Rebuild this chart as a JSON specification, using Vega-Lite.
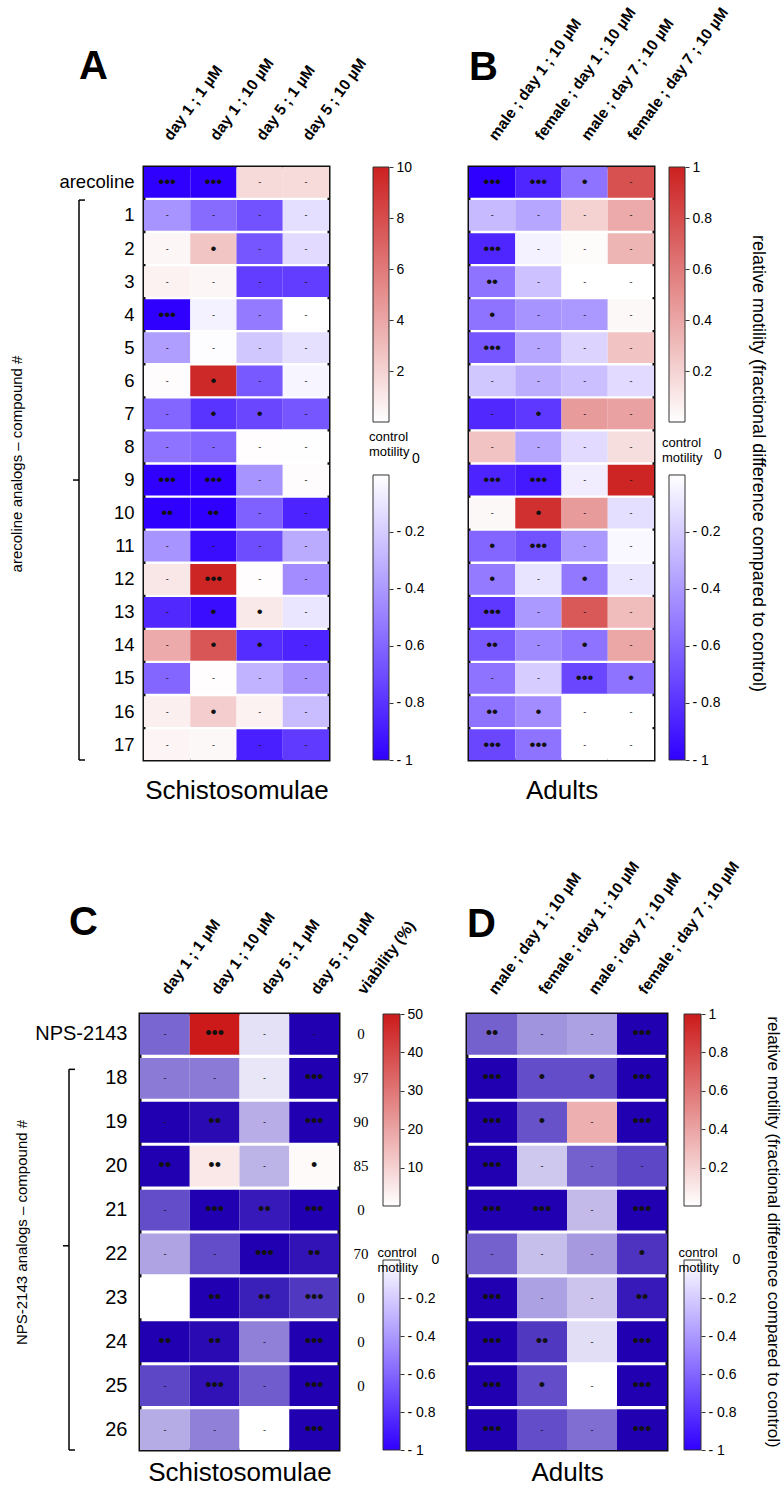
{
"$schema":"https://vega.github.io/schema/vega-lite/v6.json",
"padding":{"left":8,"top":3,"right":0,"bottom":0},
"config":{"font":"Liberation Sans","view":{"stroke":null},"axis":{"grid":false}},
"datasets":{
"A":[
{"r":"arecoline","c":"day 1 ; 1 µM","v":-1,"s":"•••"},{"r":"arecoline","c":"day 1 ; 10 µM","v":-1,"s":"•••"},{"r":"arecoline","c":"day 5 ; 1 µM","v":1.7,"s":"-"},{"r":"arecoline","c":"day 5 ; 10 µM","v":1.6,"s":"-"},
{"r":"1","c":"day 1 ; 1 µM","v":-0.42,"s":"-"},{"r":"1","c":"day 1 ; 10 µM","v":-0.58,"s":"-"},{"r":"1","c":"day 5 ; 1 µM","v":-0.68,"s":"-"},{"r":"1","c":"day 5 ; 10 µM","v":-0.13,"s":"-"},
{"r":"2","c":"day 1 ; 1 µM","v":0.4,"s":"-"},{"r":"2","c":"day 1 ; 10 µM","v":2.6,"s":"•"},{"r":"2","c":"day 5 ; 1 µM","v":-0.66,"s":"-"},{"r":"2","c":"day 5 ; 10 µM","v":-0.14,"s":"-"},
{"r":"3","c":"day 1 ; 1 µM","v":0.6,"s":"-"},{"r":"3","c":"day 1 ; 10 µM","v":0.4,"s":"-"},{"r":"3","c":"day 5 ; 1 µM","v":-0.76,"s":"-"},{"r":"3","c":"day 5 ; 10 µM","v":-0.76,"s":"-"},
{"r":"4","c":"day 1 ; 1 µM","v":-1,"s":"•••"},{"r":"4","c":"day 1 ; 10 µM","v":-0.05,"s":"-"},{"r":"4","c":"day 5 ; 1 µM","v":-0.52,"s":"-"},{"r":"4","c":"day 5 ; 10 µM","v":0,"s":"-"},
{"r":"5","c":"day 1 ; 1 µM","v":-0.38,"s":"-"},{"r":"5","c":"day 1 ; 10 µM","v":-0.01,"s":"-"},{"r":"5","c":"day 5 ; 1 µM","v":-0.22,"s":"-"},{"r":"5","c":"day 5 ; 10 µM","v":-0.12,"s":"-"},
{"r":"6","c":"day 1 ; 1 µM","v":0.15,"s":"-"},{"r":"6","c":"day 1 ; 10 µM","v":9.6,"s":"•"},{"r":"6","c":"day 5 ; 1 µM","v":-0.65,"s":"-"},{"r":"6","c":"day 5 ; 10 µM","v":-0.04,"s":"-"},
{"r":"7","c":"day 1 ; 1 µM","v":-0.6,"s":"-"},{"r":"7","c":"day 1 ; 10 µM","v":-0.8,"s":"•"},{"r":"7","c":"day 5 ; 1 µM","v":-0.72,"s":"•"},{"r":"7","c":"day 5 ; 10 µM","v":-0.66,"s":"-"},
{"r":"8","c":"day 1 ; 1 µM","v":-0.55,"s":"-"},{"r":"8","c":"day 1 ; 10 µM","v":-0.6,"s":"-"},{"r":"8","c":"day 5 ; 1 µM","v":0.08,"s":"-"},{"r":"8","c":"day 5 ; 10 µM","v":0.05,"s":"-"},
{"r":"9","c":"day 1 ; 1 µM","v":-1,"s":"•••"},{"r":"9","c":"day 1 ; 10 µM","v":-1,"s":"•••"},{"r":"9","c":"day 5 ; 1 µM","v":-0.42,"s":"-"},{"r":"9","c":"day 5 ; 10 µM","v":0.12,"s":"-"},
{"r":"10","c":"day 1 ; 1 µM","v":-1,"s":"••"},{"r":"10","c":"day 1 ; 10 µM","v":-1,"s":"••"},{"r":"10","c":"day 5 ; 1 µM","v":-0.62,"s":"-"},{"r":"10","c":"day 5 ; 10 µM","v":-0.86,"s":"-"},
{"r":"11","c":"day 1 ; 1 µM","v":-0.42,"s":"-"},{"r":"11","c":"day 1 ; 10 µM","v":-0.95,"s":"-"},{"r":"11","c":"day 5 ; 1 µM","v":-0.7,"s":"-"},{"r":"11","c":"day 5 ; 10 µM","v":-0.33,"s":"-"},
{"r":"12","c":"day 1 ; 1 µM","v":1.1,"s":"-"},{"r":"12","c":"day 1 ; 10 µM","v":9.8,"s":"•••"},{"r":"12","c":"day 5 ; 1 µM","v":0.08,"s":"-"},{"r":"12","c":"day 5 ; 10 µM","v":-0.45,"s":"-"},
{"r":"13","c":"day 1 ; 1 µM","v":-0.84,"s":"-"},{"r":"13","c":"day 1 ; 10 µM","v":-0.95,"s":"•"},{"r":"13","c":"day 5 ; 1 µM","v":1.0,"s":"•"},{"r":"13","c":"day 5 ; 10 µM","v":-0.1,"s":"-"},
{"r":"14","c":"day 1 ; 1 µM","v":3.8,"s":"-"},{"r":"14","c":"day 1 ; 10 µM","v":7.6,"s":"•"},{"r":"14","c":"day 5 ; 1 µM","v":-0.82,"s":"•"},{"r":"14","c":"day 5 ; 10 µM","v":-0.86,"s":"-"},
{"r":"15","c":"day 1 ; 1 µM","v":-0.6,"s":"-"},{"r":"15","c":"day 1 ; 10 µM","v":0.08,"s":"-"},{"r":"15","c":"day 5 ; 1 µM","v":-0.3,"s":"-"},{"r":"15","c":"day 5 ; 10 µM","v":-0.43,"s":"-"},
{"r":"16","c":"day 1 ; 1 µM","v":0.7,"s":"-"},{"r":"16","c":"day 1 ; 10 µM","v":2.2,"s":"•"},{"r":"16","c":"day 5 ; 1 µM","v":0.6,"s":"-"},{"r":"16","c":"day 5 ; 10 µM","v":-0.26,"s":"-"},
{"r":"17","c":"day 1 ; 1 µM","v":0.45,"s":"-"},{"r":"17","c":"day 1 ; 10 µM","v":0.3,"s":"-"},{"r":"17","c":"day 5 ; 1 µM","v":-0.88,"s":"-"},{"r":"17","c":"day 5 ; 10 µM","v":-0.77,"s":"-"}
],
"B":[
{"r":"arecoline","c":"male ; day 1 ; 10 µM","v":-1,"s":"•••"},{"r":"arecoline","c":"female ; day 1 ; 10 µM","v":-0.85,"s":"•••"},{"r":"arecoline","c":"male ; day 7 ; 10 µM","v":-0.55,"s":"•"},{"r":"arecoline","c":"female ; day 7 ; 10 µM","v":0.78,"s":"-"},
{"r":"1","c":"male ; day 1 ; 10 µM","v":-0.27,"s":"-"},{"r":"1","c":"female ; day 1 ; 10 µM","v":-0.35,"s":"-"},{"r":"1","c":"male ; day 7 ; 10 µM","v":0.2,"s":"-"},{"r":"1","c":"female ; day 7 ; 10 µM","v":0.38,"s":"-"},
{"r":"2","c":"male ; day 1 ; 10 µM","v":-0.85,"s":"•••"},{"r":"2","c":"female ; day 1 ; 10 µM","v":-0.05,"s":"-"},{"r":"2","c":"male ; day 7 ; 10 µM","v":0.02,"s":"-"},{"r":"2","c":"female ; day 7 ; 10 µM","v":0.33,"s":"-"},
{"r":"3","c":"male ; day 1 ; 10 µM","v":-0.55,"s":"••"},{"r":"3","c":"female ; day 1 ; 10 µM","v":-0.24,"s":"-"},{"r":"3","c":"male ; day 7 ; 10 µM","v":0,"s":"-"},{"r":"3","c":"female ; day 7 ; 10 µM","v":0,"s":"-"},
{"r":"4","c":"male ; day 1 ; 10 µM","v":-0.55,"s":"•"},{"r":"4","c":"female ; day 1 ; 10 µM","v":-0.42,"s":"-"},{"r":"4","c":"male ; day 7 ; 10 µM","v":-0.4,"s":"-"},{"r":"4","c":"female ; day 7 ; 10 µM","v":0.03,"s":"-"},
{"r":"5","c":"male ; day 1 ; 10 µM","v":-0.66,"s":"•••"},{"r":"5","c":"female ; day 1 ; 10 µM","v":-0.35,"s":"-"},{"r":"5","c":"male ; day 7 ; 10 µM","v":-0.17,"s":"-"},{"r":"5","c":"female ; day 7 ; 10 µM","v":0.27,"s":"-"},
{"r":"6","c":"male ; day 1 ; 10 µM","v":-0.22,"s":"-"},{"r":"6","c":"female ; day 1 ; 10 µM","v":-0.32,"s":"-"},{"r":"6","c":"male ; day 7 ; 10 µM","v":-0.25,"s":"-"},{"r":"6","c":"female ; day 7 ; 10 µM","v":-0.14,"s":"-"},
{"r":"7","c":"male ; day 1 ; 10 µM","v":-0.84,"s":"-"},{"r":"7","c":"female ; day 1 ; 10 µM","v":-0.78,"s":"•"},{"r":"7","c":"male ; day 7 ; 10 µM","v":0.45,"s":"-"},{"r":"7","c":"female ; day 7 ; 10 µM","v":0.42,"s":"-"},
{"r":"8","c":"male ; day 1 ; 10 µM","v":0.27,"s":"-"},{"r":"8","c":"female ; day 1 ; 10 µM","v":-0.35,"s":"-"},{"r":"8","c":"male ; day 7 ; 10 µM","v":-0.14,"s":"-"},{"r":"8","c":"female ; day 7 ; 10 µM","v":0.15,"s":"-"},
{"r":"9","c":"male ; day 1 ; 10 µM","v":-0.86,"s":"•••"},{"r":"9","c":"female ; day 1 ; 10 µM","v":-0.9,"s":"•••"},{"r":"9","c":"male ; day 7 ; 10 µM","v":-0.07,"s":"-"},{"r":"9","c":"female ; day 7 ; 10 µM","v":0.98,"s":"-"},
{"r":"10","c":"male ; day 1 ; 10 µM","v":0.03,"s":"-"},{"r":"10","c":"female ; day 1 ; 10 µM","v":0.93,"s":"•"},{"r":"10","c":"male ; day 7 ; 10 µM","v":0.45,"s":"-"},{"r":"10","c":"female ; day 7 ; 10 µM","v":-0.13,"s":"-"},
{"r":"11","c":"male ; day 1 ; 10 µM","v":-0.6,"s":"•"},{"r":"11","c":"female ; day 1 ; 10 µM","v":-0.68,"s":"•••"},{"r":"11","c":"male ; day 7 ; 10 µM","v":-0.4,"s":"-"},{"r":"11","c":"female ; day 7 ; 10 µM","v":-0.03,"s":"-"},
{"r":"12","c":"male ; day 1 ; 10 µM","v":-0.52,"s":"•"},{"r":"12","c":"female ; day 1 ; 10 µM","v":-0.11,"s":"-"},{"r":"12","c":"male ; day 7 ; 10 µM","v":-0.53,"s":"•"},{"r":"12","c":"female ; day 7 ; 10 µM","v":-0.1,"s":"-"},
{"r":"13","c":"male ; day 1 ; 10 µM","v":-0.78,"s":"•••"},{"r":"13","c":"female ; day 1 ; 10 µM","v":-0.4,"s":"-"},{"r":"13","c":"male ; day 7 ; 10 µM","v":0.75,"s":"-"},{"r":"13","c":"female ; day 7 ; 10 µM","v":0.3,"s":"-"},
{"r":"14","c":"male ; day 1 ; 10 µM","v":-0.65,"s":"••"},{"r":"14","c":"female ; day 1 ; 10 µM","v":-0.46,"s":"-"},{"r":"14","c":"male ; day 7 ; 10 µM","v":-0.55,"s":"•"},{"r":"14","c":"female ; day 7 ; 10 µM","v":0.4,"s":"-"},
{"r":"15","c":"male ; day 1 ; 10 µM","v":-0.55,"s":"-"},{"r":"15","c":"female ; day 1 ; 10 µM","v":-0.2,"s":"-"},{"r":"15","c":"male ; day 7 ; 10 µM","v":-0.72,"s":"•••"},{"r":"15","c":"female ; day 7 ; 10 µM","v":-0.55,"s":"•"},
{"r":"16","c":"male ; day 1 ; 10 µM","v":-0.55,"s":"••"},{"r":"16","c":"female ; day 1 ; 10 µM","v":-0.45,"s":"•"},{"r":"16","c":"male ; day 7 ; 10 µM","v":0,"s":"-"},{"r":"16","c":"female ; day 7 ; 10 µM","v":0,"s":"-"},
{"r":"17","c":"male ; day 1 ; 10 µM","v":-0.72,"s":"•••"},{"r":"17","c":"female ; day 1 ; 10 µM","v":-0.55,"s":"•••"},{"r":"17","c":"male ; day 7 ; 10 µM","v":0,"s":"-"},{"r":"17","c":"female ; day 7 ; 10 µM","v":0,"s":"-"}
],
"C":[
{"r":"NPS-2143","c":"day 1 ; 1 µM","v":-0.6,"s":"-"},{"r":"NPS-2143","c":"day 1 ; 10 µM","v":50,"s":"•••"},{"r":"NPS-2143","c":"day 5 ; 1 µM","v":-0.12,"s":"-"},{"r":"NPS-2143","c":"day 5 ; 10 µM","v":-1,"s":"-"},
{"r":"18","c":"day 1 ; 1 µM","v":-0.52,"s":"-"},{"r":"18","c":"day 1 ; 10 µM","v":-0.52,"s":"-"},{"r":"18","c":"day 5 ; 1 µM","v":-0.1,"s":"-"},{"r":"18","c":"day 5 ; 10 µM","v":-1,"s":"•••"},
{"r":"19","c":"day 1 ; 1 µM","v":-1,"s":"-"},{"r":"19","c":"day 1 ; 10 µM","v":-0.96,"s":"••"},{"r":"19","c":"day 5 ; 1 µM","v":-0.32,"s":"-"},{"r":"19","c":"day 5 ; 10 µM","v":-1,"s":"•••"},
{"r":"20","c":"day 1 ; 1 µM","v":-1,"s":"••"},{"r":"20","c":"day 1 ; 10 µM","v":5,"s":"••"},{"r":"20","c":"day 5 ; 1 µM","v":-0.3,"s":"-"},{"r":"20","c":"day 5 ; 10 µM","v":1,"s":"•"},
{"r":"21","c":"day 1 ; 1 µM","v":-0.7,"s":"-"},{"r":"21","c":"day 1 ; 10 µM","v":-1,"s":"•••"},{"r":"21","c":"day 5 ; 1 µM","v":-0.9,"s":"••"},{"r":"21","c":"day 5 ; 10 µM","v":-1,"s":"•••"},
{"r":"22","c":"day 1 ; 1 µM","v":-0.36,"s":"-"},{"r":"22","c":"day 1 ; 10 µM","v":-0.7,"s":"-"},{"r":"22","c":"day 5 ; 1 µM","v":-1,"s":"•••"},{"r":"22","c":"day 5 ; 10 µM","v":-0.92,"s":"••"},
{"r":"23","c":"day 1 ; 1 µM","v":0,"s":""},{"r":"23","c":"day 1 ; 10 µM","v":-1,"s":"••"},{"r":"23","c":"day 5 ; 1 µM","v":-0.88,"s":"••"},{"r":"23","c":"day 5 ; 10 µM","v":-0.78,"s":"•••"},
{"r":"24","c":"day 1 ; 1 µM","v":-1,"s":"••"},{"r":"24","c":"day 1 ; 10 µM","v":-0.96,"s":"••"},{"r":"24","c":"day 5 ; 1 µM","v":-0.5,"s":"-"},{"r":"24","c":"day 5 ; 10 µM","v":-1,"s":"•••"},
{"r":"25","c":"day 1 ; 1 µM","v":-0.72,"s":"-"},{"r":"25","c":"day 1 ; 10 µM","v":-0.93,"s":"•••"},{"r":"25","c":"day 5 ; 1 µM","v":-0.64,"s":"-"},{"r":"25","c":"day 5 ; 10 µM","v":-1,"s":"•••"},
{"r":"26","c":"day 1 ; 1 µM","v":-0.33,"s":"-"},{"r":"26","c":"day 1 ; 10 µM","v":-0.5,"s":"-"},{"r":"26","c":"day 5 ; 1 µM","v":0,"s":"-"},{"r":"26","c":"day 5 ; 10 µM","v":-1,"s":"•••"}
],
"D":[
{"r":"NPS-2143","c":"male ; day 1 ; 10 µM","v":-0.62,"s":"••"},{"r":"NPS-2143","c":"female ; day 1 ; 10 µM","v":-0.42,"s":"-"},{"r":"NPS-2143","c":"male ; day 7 ; 10 µM","v":-0.37,"s":"-"},{"r":"NPS-2143","c":"female ; day 7 ; 10 µM","v":-1,"s":"•••"},
{"r":"18","c":"male ; day 1 ; 10 µM","v":-1,"s":"•••"},{"r":"18","c":"female ; day 1 ; 10 µM","v":-0.7,"s":"•"},{"r":"18","c":"male ; day 7 ; 10 µM","v":-0.7,"s":"•"},{"r":"18","c":"female ; day 7 ; 10 µM","v":-1,"s":"•••"},
{"r":"19","c":"male ; day 1 ; 10 µM","v":-1,"s":"•••"},{"r":"19","c":"female ; day 1 ; 10 µM","v":-0.68,"s":"•"},{"r":"19","c":"male ; day 7 ; 10 µM","v":0.35,"s":"-"},{"r":"19","c":"female ; day 7 ; 10 µM","v":-1,"s":"•••"},
{"r":"20","c":"male ; day 1 ; 10 µM","v":-1,"s":"•••"},{"r":"20","c":"female ; day 1 ; 10 µM","v":-0.22,"s":"-"},{"r":"20","c":"male ; day 7 ; 10 µM","v":-0.62,"s":"-"},{"r":"20","c":"female ; day 7 ; 10 µM","v":-0.72,"s":"-"},
{"r":"21","c":"male ; day 1 ; 10 µM","v":-1,"s":"•••"},{"r":"21","c":"female ; day 1 ; 10 µM","v":-1,"s":"•••"},{"r":"21","c":"male ; day 7 ; 10 µM","v":-0.27,"s":"-"},{"r":"21","c":"female ; day 7 ; 10 µM","v":-1,"s":"•••"},
{"r":"22","c":"male ; day 1 ; 10 µM","v":-0.62,"s":"-"},{"r":"22","c":"female ; day 1 ; 10 µM","v":-0.25,"s":"-"},{"r":"22","c":"male ; day 7 ; 10 µM","v":-0.4,"s":"-"},{"r":"22","c":"female ; day 7 ; 10 µM","v":-0.8,"s":"•"},
{"r":"23","c":"male ; day 1 ; 10 µM","v":-1,"s":"•••"},{"r":"23","c":"female ; day 1 ; 10 µM","v":-0.37,"s":"-"},{"r":"23","c":"male ; day 7 ; 10 µM","v":-0.23,"s":"-"},{"r":"23","c":"female ; day 7 ; 10 µM","v":-0.9,"s":"••"},
{"r":"24","c":"male ; day 1 ; 10 µM","v":-1,"s":"•••"},{"r":"24","c":"female ; day 1 ; 10 µM","v":-0.78,"s":"••"},{"r":"24","c":"male ; day 7 ; 10 µM","v":-0.13,"s":"-"},{"r":"24","c":"female ; day 7 ; 10 µM","v":-1,"s":"•••"},
{"r":"25","c":"male ; day 1 ; 10 µM","v":-1,"s":"•••"},{"r":"25","c":"female ; day 1 ; 10 µM","v":-0.7,"s":"•"},{"r":"25","c":"male ; day 7 ; 10 µM","v":0,"s":"-"},{"r":"25","c":"female ; day 7 ; 10 µM","v":-1,"s":"•••"},
{"r":"26","c":"male ; day 1 ; 10 µM","v":-1,"s":"•••"},{"r":"26","c":"female ; day 1 ; 10 µM","v":-0.7,"s":"-"},{"r":"26","c":"male ; day 7 ; 10 µM","v":-0.57,"s":"-"},{"r":"26","c":"female ; day 7 ; 10 µM","v":-1,"s":"•••"}
],
"viab":[
{"r":"NPS-2143","h":"viability (%)","viability":"0"},{"r":"18","h":"viability (%)","viability":"97"},{"r":"19","h":"viability (%)","viability":"90"},{"r":"20","h":"viability (%)","viability":"85"},{"r":"21","h":"viability (%)","viability":"0"},{"r":"22","h":"viability (%)","viability":"70"},{"r":"23","h":"viability (%)","viability":"0"},{"r":"24","h":"viability (%)","viability":"0"},{"r":"25","h":"viability (%)","viability":"0"}
],
"cbA":[{"part":"up","lo":0,"hi":10},{"part":"low","lo":-1,"hi":0},{"part":"mid","label":"control\nmotility","zero":"0"}],
"cbB":[{"part":"up","lo":0,"hi":1},{"part":"low","lo":-1,"hi":0},{"part":"mid","label":"control\nmotility","zero":"0"}],
"cbC":[{"part":"up","lo":0,"hi":50},{"part":"low","lo":-1,"hi":0},{"part":"mid","label":"control\nmotility","zero":"0"}],
"cbD":[{"part":"up","lo":0,"hi":1},{"part":"low","lo":-1,"hi":0},{"part":"mid","label":"control\nmotility","zero":"0"}],
"brA":[{"from":"1","to":"17","mid":"9"}],
"brC":[{"from":"18","to":"26","mid":"22"}]
},
"bounds":"flush","spacing":847,
"resolve":{"scale":{"color":"independent"}},
"vconcat":[
{"bounds":"flush","spacing":0,"resolve":{"scale":{"color":"independent"}},"hconcat":[
  {"data":{"values":[]},"mark":"rect","width":10,"height":593},
  {"data":{"name":"brA"},"width":6,"height":593,
   "title":{"text":"A","anchor":"start","frame":"group","offset":80,"fontSize":40,"fontWeight":"bold","color":"black"},
   "layer":[
    {"mark":{"type":"rule","color":"black","strokeWidth":1.5},"encoding":{"x":{"datum":0,"type":"quantitative","scale":{"domain":[0,1]},"axis":null},"y":{"field":"from","type":"nominal","bandPosition":0,"scale":{"type":"band","domain":["arecoline","1","2","3","4","5","6","7","8","9","10","11","12","13","14","15","16","17"],"paddingInner":0.07,"paddingOuter":0},"axis":null},"y2":{"field":"to","bandPosition":1}}},
    {"mark":{"type":"rule","color":"black","strokeWidth":1.5},"encoding":{"x":{"datum":0,"type":"quantitative","axis":null},"x2":{"datum":1},"y":{"field":"from","type":"nominal","bandPosition":0,"axis":null}}},
    {"mark":{"type":"rule","color":"black","strokeWidth":1.5},"encoding":{"x":{"datum":0,"type":"quantitative","axis":null},"x2":{"datum":1},"y":{"field":"to","type":"nominal","bandPosition":1,"axis":null}}},
    {"mark":{"type":"rule","color":"black","strokeWidth":1.5},"encoding":{"x":{"datum":-1,"type":"quantitative","axis":null},"x2":{"datum":0},"y":{"field":"mid","type":"nominal","bandPosition":0.5,"axis":null}}}
   ]},
  {"data":{"values":[]},"mark":"rect","width":59,"height":593},
  {"data":{"name":"A"},"width":185,"height":593,"view":{"stroke":"#111","strokeWidth":3},
    "encoding":{"y":{"field":"r","type":"nominal","scale":{"domain":["arecoline","1","2","3","4","5","6","7","8","9","10","11","12","13","14","15","16","17"],"paddingInner":0.07,"paddingOuter":0},
      "axis":{"orient":"left","title":"arecoline analogs – compound #","titleFontSize":15,"titleFontWeight":"normal","titlePadding":34,"titleColor":"black","labelFontSize":18.5,"labelPadding":10,"labelColor":"black","ticks":false,"domain":false}}},
    "layer":[
     {"mark":{"type":"rect"},"encoding":{
       "x":{"field":"c","type":"nominal","scale":{"domain":["day 1 ; 1 µM","day 1 ; 10 µM","day 5 ; 1 µM","day 5 ; 10 µM"],"paddingInner":0,"paddingOuter":0},
        "axis":{"orient":"top","title":null,"labelAngle":-54,"labelAlign":"left","labelBaseline":"middle","labelFontSize":15.5,"labelFontWeight":"bold","labelPadding":29,"ticks":false,"tickSize":0,"domain":false,"labelColor":"black","labelOverlap":false,"labelLimit":0}},
       "color":{"field":"v","type":"quantitative","scale":{"domain":[-1,0,10],"range":["#3000ff","#ffffff","#cc2020"],"interpolate":"rgb"},"legend":null}}},
     {"mark":{"type":"text","color":"#111","baseline":"middle"},"encoding":{
       "x":{"field":"c","type":"nominal","axis":{"orient":"bottom","title":"Schistosomulae","labels":false,"ticks":false,"domain":false,"titleFontSize":26,"titleFontWeight":"normal","titlePadding":17,"titleColor":"black"}},
       "text":{"field":"s"},
       "size":{"condition":{"test":"datum.s === '-'","value":9},"value":17}}}
    ],
    "resolve":{"axis":{"x":"independent"}}},
  {"data":{"values":[]},"mark":"rect","width":44,"height":593},
  {"data":{"name":"cbA"},"width":16,"height":593,
   "layer":[
    {"transform":[{"filter":"datum.part === 'up'"}],
     "mark":{"type":"rect","stroke":"#333","strokeWidth":1,"fill":{"gradient":"linear","x1":0,"y1":1,"x2":0,"y2":0,"stops":[{"offset":0,"color":"#ffffff"},{"offset":1,"color":"#cc2020"}]}},
     "encoding":{"x":{"datum":0,"type":"quantitative","scale":{"domain":[0,1]},"axis":null},"x2":{"datum":1},
      "y":{"field":"lo","type":"quantitative","scale":{"domain":[-13.2549,10],"nice":false,"zero":false},"axis":{"orient":"right","values":[2,4,6,8,10],"title":null,"domain":false,"labelFontSize":14,"labelPadding":3,"tickSize":4,"tickColor":"#333","labelColor":"black","labelFlush":false,"labelExpr":"datum.value < 0 ? '- ' + format(-datum.value, '~g') : format(datum.value, '~g')"}},"y2":{"field":"hi"}}},
    {"transform":[{"filter":"datum.part === 'low'"}],
     "mark":{"type":"rect","stroke":"#333","strokeWidth":1,"fill":{"gradient":"linear","x1":0,"y1":1,"x2":0,"y2":0,"stops":[{"offset":0,"color":"#3000ff"},{"offset":1,"color":"#ffffff"}]}},
     "encoding":{"x":{"datum":0,"type":"quantitative","axis":null},"x2":{"datum":1},
      "y":{"field":"lo","type":"quantitative","scale":{"domain":[-1,1.0807],"nice":false,"zero":false},"axis":{"orient":"right","values":[-1,-0.8,-0.6,-0.4,-0.2],"title":null,"domain":false,"labelFontSize":14,"labelPadding":3,"tickSize":4,"tickColor":"#333","labelColor":"black","labelFlush":false,"labelExpr":"datum.value < 0 ? '- ' + format(-datum.value, '~g') : format(datum.value, '~g')"}},"y2":{"field":"hi"}}},
    {"transform":[{"filter":"datum.part === 'mid'"}],
     "mark":{"type":"text","align":"left","baseline":"middle","lineBreak":"\n","fontSize":13,"dx":-12,"dy":-27,"color":"black"},
     "encoding":{"text":{"field":"label"}}},
    {"transform":[{"filter":"datum.part === 'mid'"}],
     "mark":{"type":"text","align":"center","baseline":"middle","fontSize":14,"dx":35,"dy":-5,"color":"black"},
     "encoding":{"text":{"field":"zero"}}}
   ],
   "resolve":{"scale":{"y":"independent"},"axis":{"y":"independent"}}},
  {"data":{"values":[]},"mark":"rect","width":80,"height":593,
   "title":{"text":"B","anchor":"start","frame":"group","dx":80,"offset":79,"fontSize":40,"fontWeight":"bold","color":"black"}},
  {"data":{"name":"B"},"width":185,"height":593,"view":{"stroke":"#111","strokeWidth":3},
    "encoding":{"y":{"field":"r","type":"nominal","scale":{"domain":["arecoline","1","2","3","4","5","6","7","8","9","10","11","12","13","14","15","16","17"],"paddingInner":0.07,"paddingOuter":0},"axis":null}},
    "layer":[
     {"mark":{"type":"rect"},"encoding":{
       "x":{"field":"c","type":"nominal","scale":{"domain":["male ; day 1 ; 10 µM","female ; day 1 ; 10 µM","male ; day 7 ; 10 µM","female ; day 7 ; 10 µM"],"paddingInner":0,"paddingOuter":0},
        "axis":{"orient":"top","title":null,"labelAngle":-54,"labelAlign":"left","labelBaseline":"middle","labelFontSize":15.5,"labelFontWeight":"bold","labelPadding":29,"ticks":false,"tickSize":0,"domain":false,"labelColor":"black","labelOverlap":false,"labelLimit":0}},
       "color":{"field":"v","type":"quantitative","scale":{"domain":[-1,0,1],"range":["#3000ff","#ffffff","#cc2020"],"interpolate":"rgb"},"legend":null}}},
     {"mark":{"type":"text","color":"#111","baseline":"middle"},"encoding":{
       "x":{"field":"c","type":"nominal","axis":{"orient":"bottom","title":"Adults","labels":false,"ticks":false,"domain":false,"titleFontSize":26,"titleFontWeight":"normal","titlePadding":17,"titleColor":"black"}},
       "text":{"field":"s"},
       "size":{"condition":{"test":"datum.s === '-'","value":9},"value":17}}}
    ],
    "resolve":{"axis":{"x":"independent"}}},
  {"data":{"values":[]},"mark":"rect","width":15,"height":593},
  {"data":{"name":"cbB"},"width":16,"height":593,
   "title":{"text":"relative motility (fractional difference compared to control)","orient":"right","anchor":"middle","fontSize":18,"fontWeight":"normal","offset":27,"color":"black"},
   "layer":[
    {"transform":[{"filter":"datum.part === 'up'"}],
     "mark":{"type":"rect","stroke":"#333","strokeWidth":1,"fill":{"gradient":"linear","x1":0,"y1":1,"x2":0,"y2":0,"stops":[{"offset":0,"color":"#ffffff"},{"offset":1,"color":"#cc2020"}]}},
     "encoding":{"x":{"datum":0,"type":"quantitative","scale":{"domain":[0,1]},"axis":null},"x2":{"datum":1},
      "y":{"field":"lo","type":"quantitative","scale":{"domain":[-1.32549,1],"nice":false,"zero":false},"axis":{"orient":"right","values":[0.2,0.4,0.6,0.8,1],"title":null,"domain":false,"labelFontSize":14,"labelPadding":3,"tickSize":4,"tickColor":"#333","labelColor":"black","labelFlush":false,"labelExpr":"datum.value < 0 ? '- ' + format(-datum.value, '~g') : format(datum.value, '~g')"}},"y2":{"field":"hi"}}},
    {"transform":[{"filter":"datum.part === 'low'"}],
     "mark":{"type":"rect","stroke":"#333","strokeWidth":1,"fill":{"gradient":"linear","x1":0,"y1":1,"x2":0,"y2":0,"stops":[{"offset":0,"color":"#3000ff"},{"offset":1,"color":"#ffffff"}]}},
     "encoding":{"x":{"datum":0,"type":"quantitative","axis":null},"x2":{"datum":1},
      "y":{"field":"lo","type":"quantitative","scale":{"domain":[-1,1.0807],"nice":false,"zero":false},"axis":{"orient":"right","values":[-1,-0.8,-0.6,-0.4,-0.2],"title":null,"domain":false,"labelFontSize":14,"labelPadding":3,"tickSize":4,"tickColor":"#333","labelColor":"black","labelFlush":false,"labelExpr":"datum.value < 0 ? '- ' + format(-datum.value, '~g') : format(datum.value, '~g')"}},"y2":{"field":"hi"}}},
    {"transform":[{"filter":"datum.part === 'mid'"}],
     "mark":{"type":"text","align":"left","baseline":"middle","lineBreak":"\n","fontSize":13,"dx":-15,"dy":-21,"color":"black"},
     "encoding":{"text":{"field":"label"}}},
    {"transform":[{"filter":"datum.part === 'mid'"}],
     "mark":{"type":"text","align":"center","baseline":"middle","fontSize":14,"dx":41,"dy":-9,"color":"black"},
     "encoding":{"text":{"field":"zero"}}}
   ],
   "resolve":{"scale":{"y":"independent"},"axis":{"y":"independent"}}}
]},
{"bounds":"flush","spacing":0,"resolve":{"scale":{"color":"independent"}},"hconcat":[
  {"data":{"name":"brC"},"width":6,"height":436,
   "title":{"text":"C","anchor":"start","frame":"group","offset":71,"fontSize":40,"fontWeight":"bold","color":"black"},
   "layer":[
    {"mark":{"type":"rule","color":"black","strokeWidth":1.5},"encoding":{"x":{"datum":0,"type":"quantitative","scale":{"domain":[0,1]},"axis":null},"y":{"field":"from","type":"nominal","bandPosition":0.28,"scale":{"type":"band","domain":["NPS-2143","18","19","20","21","22","23","24","25","26"],"paddingInner":0.07,"paddingOuter":0},"axis":null},"y2":{"field":"to","bandPosition":1}}},
    {"mark":{"type":"rule","color":"black","strokeWidth":1.5},"encoding":{"x":{"datum":0,"type":"quantitative","axis":null},"x2":{"datum":1},"y":{"field":"from","type":"nominal","bandPosition":0.28,"axis":null}}},
    {"mark":{"type":"rule","color":"black","strokeWidth":1.5},"encoding":{"x":{"datum":0,"type":"quantitative","axis":null},"x2":{"datum":1},"y":{"field":"to","type":"nominal","bandPosition":1,"axis":null}}},
    {"mark":{"type":"rule","color":"black","strokeWidth":1.5},"encoding":{"x":{"datum":-1,"type":"quantitative","axis":null},"x2":{"datum":0},"y":{"field":"mid","type":"nominal","bandPosition":0.3,"axis":null}}}
   ]},
  {"data":{"values":[]},"mark":"rect","width":65,"height":436},
  {"data":{"name":"C"},"width":199,"height":436,"view":{"stroke":"#111","strokeWidth":3},
    "encoding":{"y":{"field":"r","type":"nominal","scale":{"domain":["NPS-2143","18","19","20","21","22","23","24","25","26"],"paddingInner":0.07,"paddingOuter":0},
      "axis":{"orient":"left","title":"NPS-2143 analogs – compound #","titleFontSize":15,"titleFontWeight":"normal","titlePadding":5,"titleColor":"black","labelFontSize":20,"labelPadding":13,"labelColor":"black","ticks":false,"domain":false}}},
    "layer":[
     {"mark":{"type":"rect"},"encoding":{
       "x":{"field":"c","type":"nominal","scale":{"domain":["day 1 ; 1 µM","day 1 ; 10 µM","day 5 ; 1 µM","day 5 ; 10 µM"],"paddingInner":0,"paddingOuter":0},
        "axis":{"orient":"top","title":null,"labelAngle":-54,"labelAlign":"left","labelBaseline":"middle","labelFontSize":15.5,"labelFontWeight":"bold","labelPadding":22,"ticks":false,"tickSize":0,"domain":false,"labelColor":"black","labelOverlap":false,"labelLimit":0}},
       "color":{"field":"v","type":"quantitative","scale":{"domain":[-1,0,50],"range":["#2000b0","#ffffff","#cc1a1a"],"interpolate":"rgb"},"legend":null}}},
     {"mark":{"type":"text","color":"#111","baseline":"middle"},"encoding":{
       "x":{"field":"c","type":"nominal","axis":{"orient":"bottom","title":"Schistosomulae","labels":false,"ticks":false,"domain":false,"titleFontSize":26,"titleFontWeight":"normal","titlePadding":9,"titleColor":"black"}},
       "text":{"field":"s"},
       "size":{"condition":{"test":"datum.s === '-'","value":9},"value":18}}}
    ],
    "resolve":{"axis":{"x":"independent"}}},
  {"data":{"values":[]},"mark":"rect","width":4,"height":436},
  {"data":{"name":"viab"},"width":36,"height":436,
    "mark":{"type":"text","font":"Liberation Serif","fontSize":15,"color":"black","baseline":"middle"},
    "encoding":{
     "x":{"field":"h","type":"nominal","scale":{"type":"band","paddingInner":0,"paddingOuter":0},
      "axis":{"orient":"top","title":null,"labelAngle":-54,"labelAlign":"left","labelBaseline":"middle","labelFontSize":15.5,"labelFontWeight":"bold","labelPadding":22,"ticks":false,"tickSize":0,"domain":false,"labelColor":"black","labelOverlap":false,"labelLimit":0}},
     "y":{"field":"r","type":"nominal","scale":{"type":"band","domain":["NPS-2143","18","19","20","21","22","23","24","25","26"],"paddingInner":0.07,"paddingOuter":0},"axis":null},
     "text":{"field":"viability"}}},
  {"data":{"values":[]},"mark":"rect","width":4,"height":436},
  {"data":{"name":"cbC"},"width":17,"height":436,
   "layer":[
    {"transform":[{"filter":"datum.part === 'up'"}],
     "mark":{"type":"rect","stroke":"#333","strokeWidth":1,"fill":{"gradient":"linear","x1":0,"y1":1,"x2":0,"y2":0,"stops":[{"offset":0,"color":"#ffffff"},{"offset":1,"color":"#cc1a1a"}]}},
     "encoding":{"x":{"datum":0,"type":"quantitative","scale":{"domain":[0,1]},"axis":null},"x2":{"datum":1},
      "y":{"field":"lo","type":"quantitative","scale":{"domain":[-63.5417,50],"nice":false,"zero":false},"axis":{"orient":"right","values":[10,20,30,40,50],"title":null,"domain":false,"labelFontSize":14,"labelPadding":3,"tickSize":4,"tickColor":"#333","labelColor":"black","labelFlush":false,"labelExpr":"datum.value < 0 ? '- ' + format(-datum.value, '~g') : format(datum.value, '~g')"}},"y2":{"field":"hi"}}},
    {"transform":[{"filter":"datum.part === 'low'"}],
     "mark":{"type":"rect","stroke":"#333","strokeWidth":1,"fill":{"gradient":"linear","x1":0,"y1":1,"x2":0,"y2":0,"stops":[{"offset":0,"color":"#3000ff"},{"offset":1,"color":"#ffffff"}]}},
     "encoding":{"x":{"datum":0,"type":"quantitative","axis":null},"x2":{"datum":1},
      "y":{"field":"lo","type":"quantitative","scale":{"domain":[-1,1.29474],"nice":false,"zero":false},"axis":{"orient":"right","values":[-1,-0.8,-0.6,-0.4,-0.2],"title":null,"domain":false,"labelFontSize":14,"labelPadding":3,"tickSize":4,"tickColor":"#333","labelColor":"black","labelFlush":false,"labelExpr":"datum.value < 0 ? '- ' + format(-datum.value, '~g') : format(datum.value, '~g')"}},"y2":{"field":"hi"}}},
    {"transform":[{"filter":"datum.part === 'mid'"}],
     "mark":{"type":"text","align":"left","baseline":"middle","lineBreak":"\n","fontSize":13,"dx":-14,"dy":21,"color":"black"},
     "encoding":{"text":{"field":"label"}}},
    {"transform":[{"filter":"datum.part === 'mid'"}],
     "mark":{"type":"text","align":"center","baseline":"middle","fontSize":14,"dx":44,"dy":28,"color":"black"},
     "encoding":{"text":{"field":"zero"}}}
   ],
   "resolve":{"scale":{"y":"independent"},"axis":{"y":"independent"}}},
  {"data":{"values":[]},"mark":"rect","width":67,"height":436,
   "title":{"text":"D","anchor":"start","frame":"group","dx":67,"offset":69,"fontSize":40,"fontWeight":"bold","color":"black"}},
  {"data":{"name":"D"},"width":200,"height":436,"view":{"stroke":"#111","strokeWidth":3},
    "encoding":{"y":{"field":"r","type":"nominal","scale":{"domain":["NPS-2143","18","19","20","21","22","23","24","25","26"],"paddingInner":0.07,"paddingOuter":0},"axis":null}},
    "layer":[
     {"mark":{"type":"rect"},"encoding":{
       "x":{"field":"c","type":"nominal","scale":{"domain":["male ; day 1 ; 10 µM","female ; day 1 ; 10 µM","male ; day 7 ; 10 µM","female ; day 7 ; 10 µM"],"paddingInner":0,"paddingOuter":0},
        "axis":{"orient":"top","title":null,"labelAngle":-54,"labelAlign":"left","labelBaseline":"middle","labelFontSize":15.5,"labelFontWeight":"bold","labelPadding":22,"ticks":false,"tickSize":0,"domain":false,"labelColor":"black","labelOverlap":false,"labelLimit":0}},
       "color":{"field":"v","type":"quantitative","scale":{"domain":[-1,0,1],"range":["#2000b0","#ffffff","#cc1a1a"],"interpolate":"rgb"},"legend":null}}},
     {"mark":{"type":"text","color":"#111","baseline":"middle"},"encoding":{
       "x":{"field":"c","type":"nominal","axis":{"orient":"bottom","title":"Adults","labels":false,"ticks":false,"domain":false,"titleFontSize":26,"titleFontWeight":"normal","titlePadding":9,"titleColor":"black"}},
       "text":{"field":"s"},
       "size":{"condition":{"test":"datum.s === '-'","value":9},"value":18}}}
    ],
    "resolve":{"axis":{"x":"independent"}}},
  {"data":{"values":[]},"mark":"rect","width":17,"height":436},
  {"data":{"name":"cbD"},"width":17,"height":436,
   "title":{"text":"relative motility (fractional difference compared to control)","orient":"right","anchor":"middle","fontSize":17,"fontWeight":"normal","offset":24,"color":"black"},
   "layer":[
    {"transform":[{"filter":"datum.part === 'up'"}],
     "mark":{"type":"rect","stroke":"#333","strokeWidth":1,"fill":{"gradient":"linear","x1":0,"y1":1,"x2":0,"y2":0,"stops":[{"offset":0,"color":"#ffffff"},{"offset":1,"color":"#cc1a1a"}]}},
     "encoding":{"x":{"datum":0,"type":"quantitative","scale":{"domain":[0,1]},"axis":null},"x2":{"datum":1},
      "y":{"field":"lo","type":"quantitative","scale":{"domain":[-1.27083,1],"nice":false,"zero":false},"axis":{"orient":"right","values":[0.2,0.4,0.6,0.8,1],"title":null,"domain":false,"labelFontSize":14,"labelPadding":3,"tickSize":4,"tickColor":"#333","labelColor":"black","labelFlush":false,"labelExpr":"datum.value < 0 ? '- ' + format(-datum.value, '~g') : format(datum.value, '~g')"}},"y2":{"field":"hi"}}},
    {"transform":[{"filter":"datum.part === 'low'"}],
     "mark":{"type":"rect","stroke":"#333","strokeWidth":1,"fill":{"gradient":"linear","x1":0,"y1":1,"x2":0,"y2":0,"stops":[{"offset":0,"color":"#3000ff"},{"offset":1,"color":"#ffffff"}]}},
     "encoding":{"x":{"datum":0,"type":"quantitative","axis":null},"x2":{"datum":1},
      "y":{"field":"lo","type":"quantitative","scale":{"domain":[-1,1.29474],"nice":false,"zero":false},"axis":{"orient":"right","values":[-1,-0.8,-0.6,-0.4,-0.2],"title":null,"domain":false,"labelFontSize":14,"labelPadding":3,"tickSize":4,"tickColor":"#333","labelColor":"black","labelFlush":false,"labelExpr":"datum.value < 0 ? '- ' + format(-datum.value, '~g') : format(datum.value, '~g')"}},"y2":{"field":"hi"}}},
    {"transform":[{"filter":"datum.part === 'mid'"}],
     "mark":{"type":"text","align":"left","baseline":"middle","lineBreak":"\n","fontSize":13,"dx":-14,"dy":21,"color":"black"},
     "encoding":{"text":{"field":"label"}}},
    {"transform":[{"filter":"datum.part === 'mid'"}],
     "mark":{"type":"text","align":"center","baseline":"middle","fontSize":14,"dx":44,"dy":28,"color":"black"},
     "encoding":{"text":{"field":"zero"}}}
   ],
   "resolve":{"scale":{"y":"independent"},"axis":{"y":"independent"}}}
]}
]
}
